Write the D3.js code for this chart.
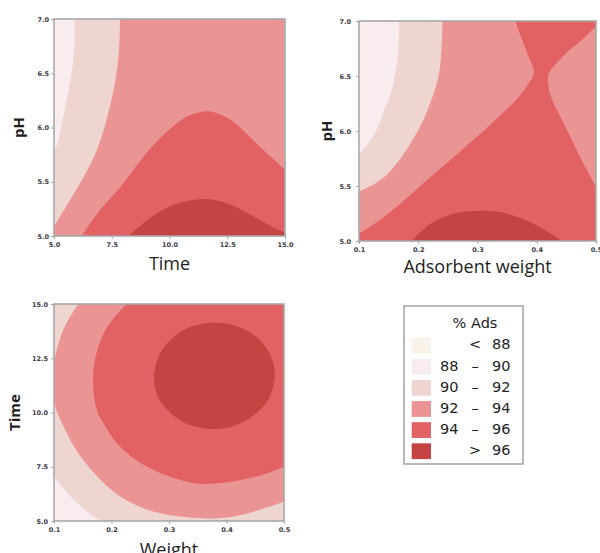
<!DOCTYPE html>
<html>
<head>
<meta charset="utf-8">
<script src="https://cdn.jsdelivr.net/npm/d3@7"></script>
<style>
  html, body { margin: 0; padding: 0; background: #fff; }
  svg { display: block; }
  .tick text { font-family: "DejaVu Sans", sans-serif; font-weight: bold; font-size: 6.5px; fill: #3a3a48; }
  .tick line { stroke: #a8a8a8; stroke-width: 1; }
  .axis-title { font-family: "Open Sans", sans-serif; fill: #1e1e1e; }
  .legend-text { font-family: "DejaVu Sans", sans-serif; font-size: 14.5px; fill: #1e1e1e; }
</style>
</head>
<body>
<div id="chart"></div>
<script>
// ---------------- data ----------------
const levels = [88, 90, 92, 94, 96];
const legendRows = [["", "<", "88"], ["88", "–", "90"], ["90", "–", "92"], ["92", "–", "94"], ["94", "–", "96"], ["", ">", "96"]];
const legendTitle = "% Ads";

const timeTicks = [5.0, 7.5, 10.0, 12.5, 15.0];
const phTicks = [5.0, 5.5, 6.0, 6.5, 7.0];
const weightTicks = [0.1, 0.2, 0.3, 0.4, 0.5];

// Panel 1: pH vs Time  (contour lines, [time, pH])
const p1c90 = [[5.91, 7.0], [5.87, 6.71], [5.69, 6.41], [5.40, 6.10], [5.19, 5.88], [5.0, 5.78]];
const p1c92 = [[7.86, 7.0], [7.81, 6.71], [7.64, 6.41], [7.31, 6.10], [6.85, 5.79], [6.27, 5.54], [5.69, 5.33], [5.12, 5.13], [5.0, 5.08]];
const p1c94 = [[6.2, 5.0], [6.99, 5.24], [7.86, 5.45], [8.72, 5.69], [9.59, 5.9], [10.45, 6.06], [11.1, 6.13], [11.7, 6.15], [12.3, 6.11], [12.9, 6.03], [13.63, 5.88], [14.5, 5.71], [15.0, 5.61]];
const p1c96 = [[8.22, 5.0], [9.01, 5.14], [9.88, 5.26], [10.74, 5.32], [11.46, 5.34], [12.19, 5.32], [13.05, 5.25], [14.06, 5.13], [15.0, 5.03]];

// Panel 2: pH vs Adsorbent weight ([weight, pH])
const p2c90 = [[0.168, 7.0], [0.166, 6.73], [0.158, 6.43], [0.143, 6.19], [0.127, 5.98], [0.110, 5.85], [0.1, 5.79]];
const p2c92 = [[0.241, 7.0], [0.239, 6.73], [0.234, 6.49], [0.222, 6.28], [0.206, 6.07], [0.186, 5.88], [0.163, 5.70], [0.135, 5.55], [0.1, 5.45]];
const p2c94left = [[0.1, 5.07], [0.13, 5.17], [0.17, 5.34], [0.214, 5.55], [0.259, 5.76], [0.304, 5.97], [0.340, 6.15], [0.368, 6.30], [0.386, 6.43], [0.395, 6.53], [0.389, 6.64], [0.378, 6.79], [0.369, 6.92], [0.364, 7.0]];
const p2c94right = [[0.5, 6.95], [0.468, 6.79], [0.452, 6.72], [0.432, 6.61], [0.421, 6.53], [0.419, 6.45], [0.423, 6.33], [0.434, 6.19], [0.451, 6.01], [0.468, 5.82], [0.485, 5.64], [0.5, 5.49]];
const p2c96 = [[0.189, 5.0], [0.214, 5.13], [0.248, 5.23], [0.287, 5.27], [0.327, 5.27], [0.361, 5.23], [0.394, 5.16], [0.423, 5.07], [0.442, 5.0]];

// Panel 3: Time vs Weight ([weight, time])
const p3c90 = [[0.1, 7.04], [0.135, 5.97], [0.170, 5.20], [0.185, 5.0]];
const p3c92 = [[0.142, 15.0], [0.116, 13.8], [0.102, 12.57], [0.096, 11.5], [0.101, 10.4], [0.1116, 9.65], [0.135, 8.42], [0.170, 7.2], [0.216, 6.12], [0.274, 5.43], [0.332, 5.17], [0.378, 5.12], [0.425, 5.28], [0.471, 5.63], [0.5, 5.89]];
const p3c94 = [[0.226, 15.0], [0.197, 14.11], [0.177, 13.03], [0.168, 11.65], [0.173, 10.27], [0.184, 9.6], [0.200, 8.9], [0.220, 8.3], [0.262, 7.50], [0.320, 6.89], [0.367, 6.71], [0.425, 6.89], [0.471, 7.20], [0.5, 7.50]];
const p3c96 = [[0.484, 11.8], [0.474, 12.78], [0.449, 13.55], [0.417, 13.99], [0.381, 14.14], [0.343, 14.0], [0.311, 13.55], [0.285, 12.75], [0.274, 11.7], [0.281, 10.7], [0.305, 9.92], [0.336, 9.42], [0.372, 9.24], [0.410, 9.36], [0.445, 9.83], [0.473, 10.6]];

// ---------------- styles ----------------
const bandColors = ["#f8f2e8", "#f9ecee", "#eed5d0", "#ea9494", "#e26264", "#c64343"];

const W = 600, H = 553;
const svg = d3.select("#chart").append("svg").attr("width", W).attr("height", H);
svg.append("rect").attr("width", W).attr("height", H).attr("fill", "#fff");

const fmt = d3.format(".1f");

function drawPanel(cfg) {
  const x = d3.scaleLinear().domain(cfg.xDomain).range([cfg.left, cfg.right]);
  const y = d3.scaleLinear().domain(cfg.yDomain).range([cfg.bottom, cfg.top]);
  const g = svg.append("g");
  const clipId = "clip" + cfg.id;
  svg.append("clipPath").attr("id", clipId).append("rect")
    .attr("x", cfg.left).attr("y", cfg.top)
    .attr("width", cfg.right - cfg.left).attr("height", cfg.bottom - cfg.top);
  const plot = g.append("g").attr("clip-path", `url(#${clipId})`);

  const corner = {
    bl: [cfg.xDomain[0], cfg.yDomain[0]], br: [cfg.xDomain[1], cfg.yDomain[0]],
    tr: [cfg.xDomain[1], cfg.yDomain[1]], tl: [cfg.xDomain[0], cfg.yDomain[1]]
  };
  const lineGen = d3.line().x(d => x(d[0])).y(d => y(d[1])).curve(d3.curveNatural);
  const closedGen = d3.line().x(d => x(d[0])).y(d => y(d[1])).curve(d3.curveCatmullRomClosed.alpha(0.5));

  function regionPath(parts) {
    let d = "";
    parts.forEach((p, i) => {
      let s;
      if (typeof p === "string") s = `M${x(corner[p][0])},${y(corner[p][1])}`;
      else s = lineGen(p);
      if (i > 0) s = "L" + s.slice(1);
      d += s;
    });
    return d + "Z";
  }

  // base band
  plot.append("rect").attr("x", cfg.left).attr("y", cfg.top)
    .attr("width", cfg.right - cfg.left).attr("height", cfg.bottom - cfg.top)
    .attr("fill", bandColors[cfg.baseBand]);

  cfg.regions.forEach(r => {
    const d = r.closed ? closedGen(r.closed) : regionPath(r.parts);
    plot.append("path").attr("d", d).attr("fill", bandColors[r.band]).attr("stroke", "none");
  });

  // axes
  const xAxis = d3.axisBottom(x).tickValues(cfg.xTicks).tickFormat(fmt).tickSize(3).tickSizeOuter(0).tickPadding(3.5);
  const yAxis = d3.axisLeft(y).tickValues(cfg.yTicks).tickFormat(fmt).tickSize(3).tickSizeOuter(0).tickPadding(cfg.yPad);
  const gx = g.append("g").attr("transform", `translate(0,${cfg.bottom})`).call(xAxis);
  const gy = g.append("g").attr("transform", `translate(${cfg.left},0)`).call(yAxis);
  gx.select(".domain").remove();
  gy.select(".domain").remove();
  gx.selectAll("text").attr("font-family", null).attr("font-size", null);
  gy.selectAll("text").attr("font-family", null).attr("font-size", null);
  g.selectAll(".tick line").attr("stroke", "#a8a8a8");

  // frame
  g.append("rect").attr("x", cfg.left).attr("y", cfg.top)
    .attr("width", cfg.right - cfg.left).attr("height", cfg.bottom - cfg.top)
    .attr("fill", "none").attr("stroke", "#a8a8a8").attr("stroke-width", 1.6);

  // titles
  g.append("text").attr("class", "axis-title")
    .attr("x", (cfg.left + cfg.right) / 2).attr("y", cfg.xTitleY)
    .attr("text-anchor", "middle").attr("font-size", 18)
    .text(cfg.xTitle);
  g.append("text").attr("class", "axis-title")
    .attr("transform", `translate(${cfg.yTitleX},${(cfg.top + cfg.bottom) / 2}) rotate(-90)`)
    .attr("text-anchor", "middle").attr("font-size", 15).attr("font-weight", "bold")
    .text(cfg.yTitle);
}

drawPanel({
  id: 1, left: 54, right: 285, top: 19, bottom: 236,
  xDomain: [5, 15], yDomain: [5, 7], xTicks: timeTicks, yTicks: phTicks, yPad: 2,
  xTitle: "Time", yTitle: "pH", xTitleY: 270, yTitleX: 24,
  baseBand: 1,
  regions: [
    { band: 2, parts: [p1c90, "bl", "br", "tr"] },
    { band: 3, parts: [p1c92, "bl", "br", "tr"] },
    { band: 4, parts: [p1c94, "br"] },
    { band: 5, parts: [p1c96, "br"] }
  ]
});

drawPanel({
  id: 2, left: 359, right: 596, top: 21, bottom: 241,
  xDomain: [0.1, 0.5], yDomain: [5, 7], xTicks: weightTicks, yTicks: phTicks, yPad: 5,
  xTitle: "Adsorbent weight", yTitle: "pH", xTitleY: 273, yTitleX: 331.5,
  baseBand: 1,
  regions: [
    { band: 2, parts: [p2c90, "bl", "br", "tr"] },
    { band: 3, parts: [p2c92, "bl", "br", "tr"] },
    { band: 4, parts: [p2c94left, "tr", p2c94right, "br", "bl"] },
    { band: 5, parts: [p2c96] }
  ]
});

drawPanel({
  id: 3, left: 54, right: 284, top: 304, bottom: 521,
  xDomain: [0.1, 0.5], yDomain: [5, 15], xTicks: weightTicks, yTicks: timeTicks, yPad: 3,
  xTitle: "Weight", yTitle: "Time", xTitleY: 555.5, yTitleX: 20,
  baseBand: 1,
  regions: [
    { band: 2, parts: [p3c90, "br", "tr", "tl"] },
    { band: 3, parts: [p3c92, "tr"] },
    { band: 4, parts: [p3c94, "tr"] },
    { band: 5, closed: p3c96 }
  ]
});

// ---------------- legend ----------------
const lg = svg.append("g");
lg.append("rect").attr("x", 404).attr("y", 306).attr("width", 119).attr("height", 158)
  .attr("fill", "#fff").attr("stroke", "#a8a8a8").attr("stroke-width", 1.6);
lg.append("text").attr("class", "legend-text").attr("x", 475).attr("y", 327.5)
  .attr("text-anchor", "middle").text(legendTitle);
const rowY = d3.scaleLinear().domain([0, legendRows.length - 1]).range([337.7, 443.3]);
legendRows.forEach((r, i) => {
  const y0 = rowY(i);
  lg.append("rect").attr("x", 411.7).attr("y", y0).attr("width", 19.3).attr("height", 15.8)
    .attr("fill", bandColors[i]);
  const base = y0 + 11.7;
  if (r[0]) lg.append("text").attr("class", "legend-text").attr("x", 458.5).attr("y", base)
    .attr("text-anchor", "end").text(r[0]);
  lg.append("text").attr("class", "legend-text").attr("x", 475).attr("y", base)
    .attr("text-anchor", "middle").text(r[1]);
  lg.append("text").attr("class", "legend-text").attr("x", 510.5).attr("y", base)
    .attr("text-anchor", "end").text(r[2]);
});
</script>
</body>
</html>
